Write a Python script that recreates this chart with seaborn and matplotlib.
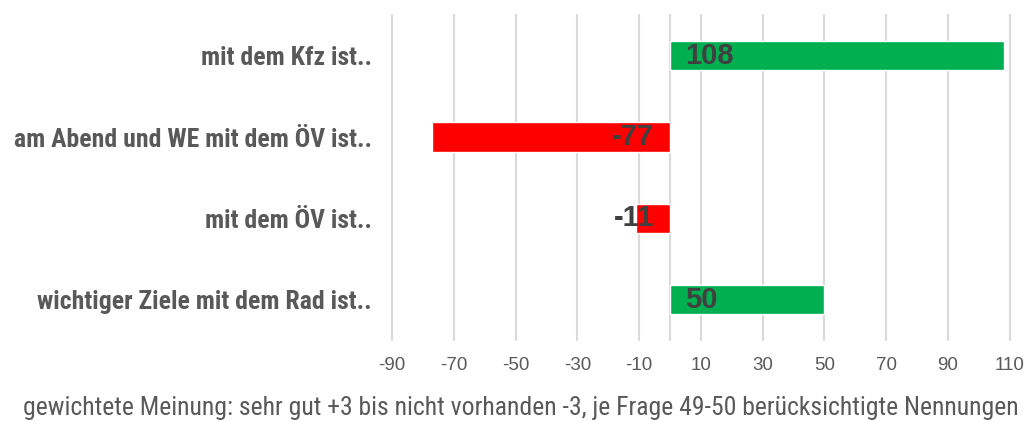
import matplotlib
matplotlib.use('Agg')
import matplotlib.pyplot as plt
import seaborn as sns
import pandas as pd

kategorien = ['mit dem Kfz ist..', 'am Abend und WE mit dem ÖV ist..',
              'mit dem ÖV ist..', 'wichtiger Ziele mit dem Rad ist..']
werte = [108, -77, -11, 50]
ticks = [-90, -70, -50, -30, -10, 10, 30, 50, 70, 90, 110]
fusszeile = 'gewichtete Meinung: sehr gut +3 bis nicht vorhanden -3, je Frage 49-50 berücksichtigte Nennungen'

df = pd.DataFrame({'kat': kategorien, 'wert': werte})
farben = {k: ('#00B050' if w > 0 else '#FF0000') for k, w in zip(kategorien, werte)}

sns.set_style('white')
schmal = ['Roboto Condensed', 'Archivo Narrow', 'Liberation Sans Narrow', 'DejaVu Sans']
plt.rcParams['font.family'] = schmal

fig = plt.figure(figsize=(10.33, 4.21), dpi=100)
ax = fig.add_axes([0.3795, 0.192, 0.598, 0.772])

sns.barplot(data=df, x='wert', y='kat', hue='kat', palette=farben, orient='h',
            width=0.36, saturation=1, legend=False, ax=ax, zorder=3)

ax.set_xlim(-90, 110)
ax.set_xticks(ticks)
ax.set_xticklabels([str(t) for t in ticks], family='Liberation Sans', fontsize=13.5, color='#595959')
# Gitterlinien auch bei 0
for x in ticks + [0]:
    ax.axvline(x, color='#D9D9D9', lw=1.5, zorder=1, clip_on=False)
ax.tick_params(axis='x', length=4, color='#D9D9D9', pad=8)
ax.tick_params(axis='y', length=0, pad=14.5)
for lbl in ax.get_yticklabels():
    lbl.set_fontsize(18.5)
    lbl.set_fontweight('bold')
    lbl.set_color('#595959')
ax.set_xlabel('')
ax.set_ylabel('')
for s in ax.spines.values():
    s.set_visible(False)

for i, w in enumerate(werte):
    if w > 0:
        ax.text(4.8, i, str(w), ha='left', va='center', fontsize=21, fontweight='bold',
                family='Liberation Sans', color='#404040', zorder=4)
    else:
        ax.text(-5.2, i, str(w), ha='right', va='center', fontsize=21, fontweight='bold',
                family='Liberation Sans', color='#404040', zorder=4)

fig.text(0.504, 0.03, fusszeile, ha='center', va='center', fontsize=18.5, color='#595959')

fig.savefig('out.png', dpi=100)
